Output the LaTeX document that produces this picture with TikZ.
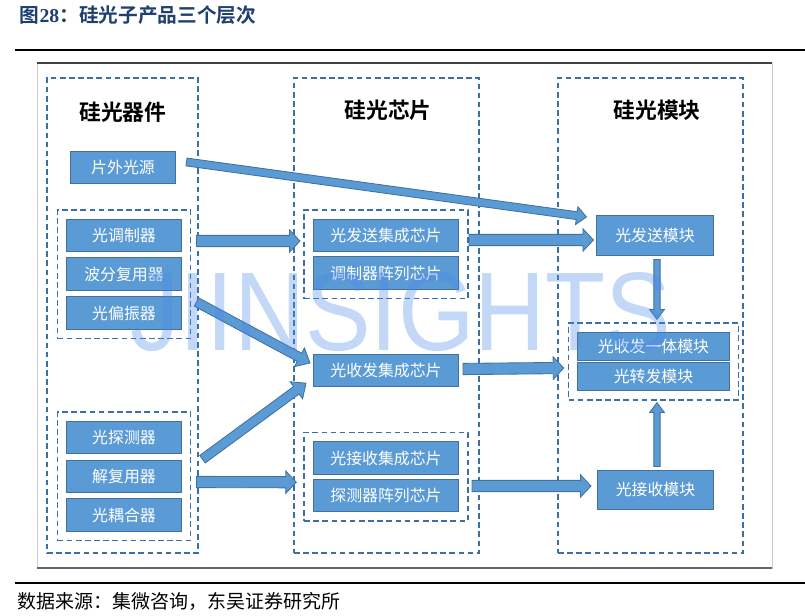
\documentclass[tikz,border=0pt]{standalone}
\usepackage{fontspec}
\setmainfont{Liberation Serif}
\newfontfamily\cjk{Noto Sans CJK SC}[BoldFont={Noto Sans CJK SC Bold}]
\newfontfamily\wmfont{Liberation Sans}
\usetikzlibrary{calc, fit}

\definecolor{boxblue}{HTML}{5B9BD5}
\definecolor{boxedge}{HTML}{41719C}
\definecolor{dashblue}{HTML}{3A70A6}
\definecolor{titleblue}{HTML}{1F3F6E}
\definecolor{wmblue}{HTML}{4A86E8}

% block arrow: start, end, shaft half width, head half width, head length
\newcommand{\blockarrow}[5]{%
  \coordinate (ba-s) at (#1);
  \coordinate (ba-e) at (#2);
  \coordinate (ba-b) at ($(ba-e)!#5!(ba-s)$);
  \draw[barrow] ($(ba-s)!#3!90:(ba-e)$) -- ($(ba-b)!#3!-90:(ba-s)$)
    -- ($(ba-b)!#4!-90:(ba-s)$) -- (ba-e) -- ($(ba-b)!#4!90:(ba-s)$)
    -- ($(ba-b)!#3!90:(ba-s)$) -- ($(ba-s)!#3!-90:(ba-e)$) -- cycle;
}

\begin{document}
\begin{tikzpicture}[x=0.025cm, y=-0.025cm,
  box/.style={draw=boxedge, fill=boxblue, line width=0.7pt, text=white, inner sep=0pt,
    font=\cjk\fontsize{11.3}{13}\selectfont, minimum height=0.81cm},
  grp/.style={draw=dashblue, dash pattern=on 4pt off 2.5pt, line width=1.2pt, inner sep=6.3pt},
  col/.style={draw=dashblue, dash pattern=on 4pt off 2.5pt, line width=1.2pt, inner sep=0pt,
    minimum height=11.875cm},
  head/.style={font=\cjk\bfseries\fontsize{15.5}{18}\selectfont},
  barrow/.style={fill=boxblue, draw=boxedge, line width=0.6pt}
]
\useasboundingbox (0,0) rectangle (805,616);

\node[anchor=west, text=titleblue, font=\fontsize{14}{16}\selectfont\bfseries] (title) at (15,15)
  {{\cjk 图}28{\cjk ：硅光子产品三个层次}};
\draw[line width=1.4pt] (15,50) -- (805,50);
\draw[line width=1.4pt] (15,583) -- (805,583);
\node[anchor=west, font=\cjk\fontsize{13.5}{16}\selectfont] (src) at (13,601)
  {数据来源：集微咨询，东吴证券研究所};

\draw[gray!40, line width=0.4pt] (37,63) rectangle (772,568);
\draw[black!75, line width=1.1pt] (37,63) -- (772,63);
\draw[black!60, line width=1.3pt] (37,568) -- (772,568);

\node[col, minimum width=3.775cm] (coldev) at (122.5,315.5) {};
\node[col, minimum width=4.625cm] (colchip) at (386.5,315.5) {};
\node[col, minimum width=4.625cm] (colmod) at (650.5,315.5) {};

\node[head] (hdev) at (123,112) {硅光器件};
\node[head] (hchip) at (388,110) {硅光芯片};
\node[head] (hmod) at (657,110) {硅光模块};

\node[box, minimum width=2.6cm, minimum height=0.8cm] (ext) at (123,167) {片外光源};
\node[box, minimum width=2.85cm] (mod) at (124,235.5) {光调制器};
\node[box, minimum width=2.85cm] (wdm) at (124,274) {波分复用器};
\node[box, minimum width=2.85cm] (pol) at (124,313) {光偏振器};
\node[box, minimum width=2.85cm] (pd) at (124,437.5) {光探测器};
\node[box, minimum width=2.85cm] (demux) at (124,476.5) {解复用器};
\node[box, minimum width=2.85cm] (cpl) at (124,515) {光耦合器};

\node[box, minimum width=3.625cm] (txic) at (386,235.5) {光发送集成芯片};
\node[box, minimum width=3.625cm] (modarr) at (386,273) {调制器阵列芯片};
\node[box, minimum width=3.625cm] (trxic) at (386,370.5) {光收发集成芯片};
\node[box, minimum width=3.625cm] (rxic) at (386,458) {光接收集成芯片};
\node[box, minimum width=3.625cm] (pdarr) at (386,495.5) {探测器阵列芯片};

\node[box, minimum width=2.9cm, minimum height=0.975cm] (txm) at (655,235.5) {光发送模块};
\node[box, minimum width=3.775cm, minimum height=0.7cm] (trxm) at (653.5,346.5) {光收发一体模块};
\node[box, minimum width=3.775cm, minimum height=0.7cm] (fwdm) at (653.5,376.5) {光转发模块};
\node[box, minimum width=2.9cm, minimum height=0.975cm] (rxm) at (655.5,489.5) {光接收模块};

\node[grp, fit=(mod)(pol)] (g1) {};
\node[grp, fit=(pd)(cpl)] (g2) {};
\node[grp, fit=(txic)(modarr)] (txg) {};
\node[grp, fit=(rxic)(pdarr)] (rxg) {};
\node[grp, fit=(trxm)(fwdm)] (mg) {};

\blockarrow{$(ext.east)+(11,-5)$}{$(txm.west)+(-10,-18.5)$}{2.8pt}{6.4pt}{7pt}
\blockarrow{$(mod.east)+(15,5.5)$}{$(txic.west)+(-13,5.5)$}{4pt}{8pt}{7.5pt}
\blockarrow{$(txic.east)+(10,4.5)$}{$(txm.west)+(-3,4.5)$}{4pt}{8pt}{7.5pt}
\blockarrow{$(pol.east)+(15,-11)$}{$(trxic.west)+(-3,-7.5)$}{3.3pt}{7.5pt}{8.5pt}
\blockarrow{$(pd.south east)+(21,5)$}{$(trxic.south west)+(-7,-4)$}{3.3pt}{7.5pt}{8.5pt}
\blockarrow{$(demux.east)+(15,5.5)$}{$(rxg.west)+(-7,5.5)$}{4pt}{8pt}{7.5pt}
\blockarrow{$(trxic.east)+(4,-1.5)$}{$(mg.west)+(-4,6.5)$}{4pt}{8pt}{7.5pt}
\blockarrow{$(pdarr.east)+(13,-9.5)$}{$(rxm.west)+(-6,-3.5)$}{4pt}{8pt}{7.5pt}
\blockarrow{$(txm.south)+(2,4)$}{$(mg.north)+(3.5,-3)$}{2.2pt}{5.3pt}{7pt}
\blockarrow{$(rxm.north)+(1.5,-3)$}{$(mg.south)+(3.5,2)$}{2.2pt}{5.3pt}{7pt}

\node[text=wmblue, opacity=0.33, xscale=0.88, font=\wmfont\fontsize{79.5}{80}\selectfont] (wm) at (401,312) {JIINSIGHTS};
\end{tikzpicture}
\end{document}
